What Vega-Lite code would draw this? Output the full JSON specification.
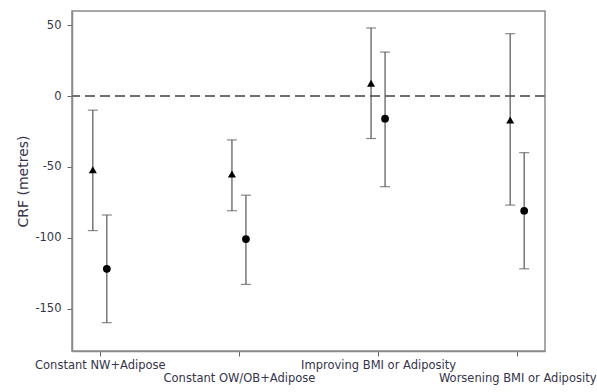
{
  "$schema": "https://vega.github.io/schema/vega-lite/v6.json",
  "width": 473,
  "height": 340,
  "autosize": {"type": "none"},
  "padding": {"left": 72, "top": 11, "right": 52, "bottom": 41},
  "background": "white",
  "config": {
    "view": {"stroke": "#8a8a8a", "strokeWidth": 1.5},
    "font": "DejaVu Sans",
    "axis": {
      "grid": false,
      "domainColor": "#8a8a8a",
      "domainWidth": 1.5,
      "tickColor": "#666",
      "tickSize": 5,
      "labelFont": "DejaVu Sans",
      "labelFontSize": 11.5,
      "labelColor": "#34344a",
      "titleFont": "DejaVu Sans",
      "titleFontSize": 14,
      "titleFontWeight": "normal",
      "titleColor": "#34344a"
    }
  },
  "data": {
    "values": [
      {"group": "Constant NW+Adipose", "model": "A", "est": -52, "lo": -95, "hi": -10},
      {"group": "Constant NW+Adipose", "model": "B", "est": -122, "lo": -160, "hi": -84},
      {"group": "Constant OW/OB+Adipose", "model": "A", "est": -55, "lo": -81, "hi": -31},
      {"group": "Constant OW/OB+Adipose", "model": "B", "est": -101, "lo": -133, "hi": -70},
      {"group": "Improving BMI or Adiposity", "model": "A", "est": 9, "lo": -30, "hi": 48},
      {"group": "Improving BMI or Adiposity", "model": "B", "est": -16, "lo": -64, "hi": 31},
      {"group": "Worsening BMI or Adiposity", "model": "A", "est": -17, "lo": -77, "hi": 44},
      {"group": "Worsening BMI or Adiposity", "model": "B", "est": -81, "lo": -122, "hi": -40}
    ]
  },
  "encoding": {
    "x": {
      "field": "group",
      "type": "nominal",
      "sort": ["Constant NW+Adipose", "Constant OW/OB+Adipose", "Improving BMI or Adiposity", "Worsening BMI or Adiposity"],
      "scale": {"type": "point", "padding": 0.2},
      "axis": {
        "title": null,
        "labelAngle": 0,
        "labelBaseline": "top",
        "labelPadding": 3,
        "labelLineHeight": 13,
        "labelExpr": "indexof(['Constant OW/OB+Adipose','Worsening BMI or Adiposity'], datum.value) >= 0 ? ['', datum.label] : datum.label"
      }
    }
  },
  "layer": [
    {
      "mark": {"type": "rule", "color": "#707070", "strokeWidth": 1.5, "strokeDash": [10, 5]},
      "encoding": {
        "x": null,
        "y": {
          "datum": 0,
          "type": "quantitative",
          "title": "CRF (metres)",
          "scale": {"domain": [-180, 60], "nice": false},
          "axis": {
            "title": "CRF (metres)",
            "values": [-150, -100, -50, 0, 50],
            "labelPadding": 6,
            "titlePadding": 4,
            "labelExpr": "datum.value < 0 ? '-' + abs(datum.value) : '' + datum.value"
          }
        }
      }
    },
    {
      "transform": [{"filter": "datum.model === 'A'"}],
      "layer": [
        {"mark": {"type": "rule", "color": "#555", "strokeWidth": 1.2, "xOffset": -7},
         "encoding": {"y": {"field": "lo", "type": "quantitative", "title": "CRF (metres)"}, "y2": {"field": "hi"}}},
        {"mark": {"type": "tick", "color": "#555", "thickness": 1.2, "size": 10, "xOffset": -7},
         "encoding": {"y": {"field": "lo", "type": "quantitative", "title": "CRF (metres)"}}},
        {"mark": {"type": "tick", "color": "#555", "thickness": 1.2, "size": 10, "xOffset": -7},
         "encoding": {"y": {"field": "hi", "type": "quantitative", "title": "CRF (metres)"}}},
        {"mark": {"type": "point", "shape": "triangle-up", "filled": true, "color": "black", "opacity": 1, "size": 65, "xOffset": -7},
         "encoding": {"y": {"field": "est", "type": "quantitative", "title": "CRF (metres)"}}}
      ]
    },
    {
      "transform": [{"filter": "datum.model === 'B'"}],
      "layer": [
        {"mark": {"type": "rule", "color": "#555", "strokeWidth": 1.2, "xOffset": 7},
         "encoding": {"y": {"field": "lo", "type": "quantitative", "title": "CRF (metres)"}, "y2": {"field": "hi"}}},
        {"mark": {"type": "tick", "color": "#555", "thickness": 1.2, "size": 10, "xOffset": 7},
         "encoding": {"y": {"field": "lo", "type": "quantitative", "title": "CRF (metres)"}}},
        {"mark": {"type": "tick", "color": "#555", "thickness": 1.2, "size": 10, "xOffset": 7},
         "encoding": {"y": {"field": "hi", "type": "quantitative", "title": "CRF (metres)"}}},
        {"mark": {"type": "point", "shape": "circle", "filled": true, "color": "black", "opacity": 1, "size": 60, "xOffset": 7},
         "encoding": {"y": {"field": "est", "type": "quantitative", "title": "CRF (metres)"}}}
      ]
    }
  ]
}
